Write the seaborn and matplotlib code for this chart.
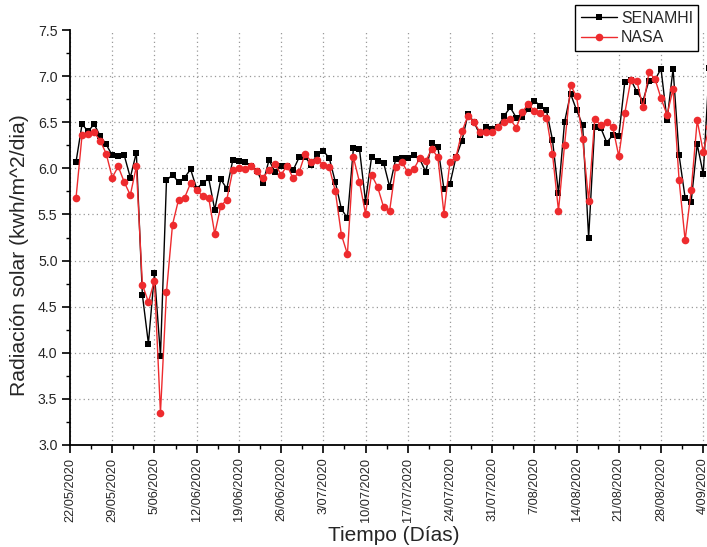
import numpy as np
import pandas as pd
import matplotlib
matplotlib.use("Agg")
import matplotlib.pyplot as plt
import matplotlib.dates as mdates
from matplotlib.ticker import MultipleLocator, FuncFormatter, FixedLocator
import seaborn as sns

# Daily solar radiation, 23/05/2020 - 05/09/2020
start_date = "2020-05-23"
senamhi = [6.07, 6.48, 6.40, 6.48, 6.35, 6.26, 6.14, 6.13, 6.14, 5.90,
           6.17, 4.63, 4.10, 4.86, 3.97, 5.87, 5.93, 5.85, 5.90, 5.99,
           5.78, 5.84, 5.89, 5.55, 5.88, 5.78, 6.09, 6.08, 6.07, 6.02,
           5.97, 5.84, 6.09, 5.96, 6.02, 6.02, 5.98, 6.12, 6.12, 6.04,
           6.16, 6.19, 6.11, 5.85, 5.56, 5.46, 6.22, 6.21, 5.64, 6.12,
           6.08, 6.06, 5.80, 6.10, 6.11, 6.11, 6.14, 6.10, 5.96, 6.28,
           6.23, 5.78, 5.83, 6.12, 6.30, 6.59, 6.50, 6.36, 6.45, 6.43,
           6.45, 6.57, 6.66, 6.55, 6.56, 6.64, 6.73, 6.68, 6.63, 6.31,
           5.73, 6.50, 6.81, 6.63, 6.47, 5.25, 6.45, 6.44, 6.28, 6.36,
           6.35, 6.94, 6.96, 6.83, 6.73, 6.95, 6.96, 7.08, 6.52, 7.08,
           6.14, 5.68, 5.64, 6.26, 5.94, 7.09]
nasa = [5.68, 6.36, 6.37, 6.39, 6.30, 6.16, 5.90, 6.02, 5.85, 5.71,
        6.02, 4.74, 4.55, 4.78, 3.35, 4.66, 5.39, 5.66, 5.68, 5.84,
        5.76, 5.70, 5.68, 5.29, 5.59, 5.66, 5.98, 6.00, 5.99, 6.02,
        5.97, 5.90, 5.98, 6.05, 5.93, 6.03, 5.89, 5.96, 6.16, 6.07,
        6.09, 6.04, 6.01, 5.75, 5.28, 5.07, 6.12, 5.85, 5.51, 5.93,
        5.80, 5.58, 5.54, 6.01, 6.07, 5.96, 5.99, 6.11, 6.08, 6.21,
        6.12, 5.51, 6.07, 6.12, 6.40, 6.57, 6.50, 6.39, 6.39, 6.39,
        6.45, 6.50, 6.53, 6.44, 6.61, 6.70, 6.62, 6.60, 6.55, 6.16,
        5.54, 6.25, 6.90, 6.78, 6.32, 5.65, 6.53, 6.47, 6.50, 6.45,
        6.13, 6.60, 6.96, 6.95, 6.66, 7.04, 6.97, 6.76, 6.58, 6.86,
        5.87, 5.22, 5.76, 6.52, 6.18, 6.45]
y_ticks = [3.0, 3.5, 4.0, 4.5, 5.0, 5.5, 6.0, 6.5, 7.0, 7.5]

dates = pd.date_range(start_date, periods=len(senamhi), freq="D")
df = pd.DataFrame({"Fecha": mdates.date2num(dates),
                   "SENAMHI": senamhi, "NASA": nasa})

sns.set_style("ticks")
plt.rcParams["font.family"] = ["Liberation Sans", "DejaVu Sans"]

fig = plt.figure(figsize=(7.07, 5.47), dpi=100)
# the frame runs a little past the right border of the figure
ax = fig.add_axes([70 / 707, 102 / 547, 648 / 707, 415 / 547])

sns.lineplot(data=df, x="Fecha", y="SENAMHI", ax=ax, color="black",
             marker="s", markersize=5, markeredgewidth=0, linewidth=1,
             label="SENAMHI", zorder=3)
sns.lineplot(data=df, x="Fecha", y="NASA", ax=ax, color="#ee2b2e",
             marker="o", markersize=5.5, markeredgewidth=0, linewidth=1,
             label="NASA", zorder=4)

x0 = mdates.date2num(pd.Timestamp("2020-05-22"))
major_x = mdates.date2num(pd.date_range("2020-05-22", "2020-09-04", freq="7D"))
minor_x = major_x + 3.5
ax.xaxis.set_major_locator(FixedLocator(major_x))
ax.xaxis.set_minor_locator(FixedLocator(minor_x))
ax.xaxis.set_major_formatter(FuncFormatter(
    lambda v, p: (lambda d: f"{d.day}/{d.month:02d}/{d.year}")(mdates.num2date(v))))
ax.set_xlim(x0, x0 + 107.45)
ax.set_ylim(3.0, 7.5)
ax.yaxis.set_major_locator(FixedLocator(y_ticks))
ax.yaxis.set_minor_locator(MultipleLocator(0.25))
ax.yaxis.set_major_formatter(FuncFormatter(lambda v, p: f"{v:.1f}"))

ax.tick_params(axis="x", labelsize=9.2, labelrotation=90)
ax.tick_params(axis="y", labelsize=10.2)
ax.tick_params(which="major", direction="out", length=5.5, width=1.2, color="black")
ax.tick_params(which="minor", direction="out", length=3, width=1, color="black")

# dotted grid: weekly verticals, horizontals between the axis ends
grid_style = dict(linestyle=(0, (1, 2.5)), color="#999999", linewidth=0.9, zorder=1)
ax.grid(True, which="major", axis="x", **grid_style)
ax.grid(False, axis="y")
for yv in y_ticks[1:-1]:
    ax.axhline(yv, **grid_style)

for side in ("top", "right"):
    ax.spines[side].set_visible(False)
for side in ("left", "bottom"):
    ax.spines[side].set_linewidth(1.3)
    ax.spines[side].set_color("black")

ax.set_xlabel("Tiempo (Días)", fontsize=15, labelpad=3)
ax.set_ylabel("Radiación solar (kwh/m^2/dia)", fontsize=15.2)
ax.yaxis.set_label_coords(-41 / 648, (445 - 255) / 415)

leg = ax.legend(loc="upper left", bbox_to_anchor=(575 / 707, 1 - 5 / 547),
                bbox_transform=fig.transFigure, fontsize=11.4, frameon=True,
                fancybox=False, edgecolor="black", handlelength=2.3,
                borderpad=0.35, labelspacing=0.3, handletextpad=0.25,
                borderaxespad=0)
leg.get_frame().set_linewidth(1)
leg.get_frame().set_alpha(1)

fig.savefig("out.png", dpi=100)
